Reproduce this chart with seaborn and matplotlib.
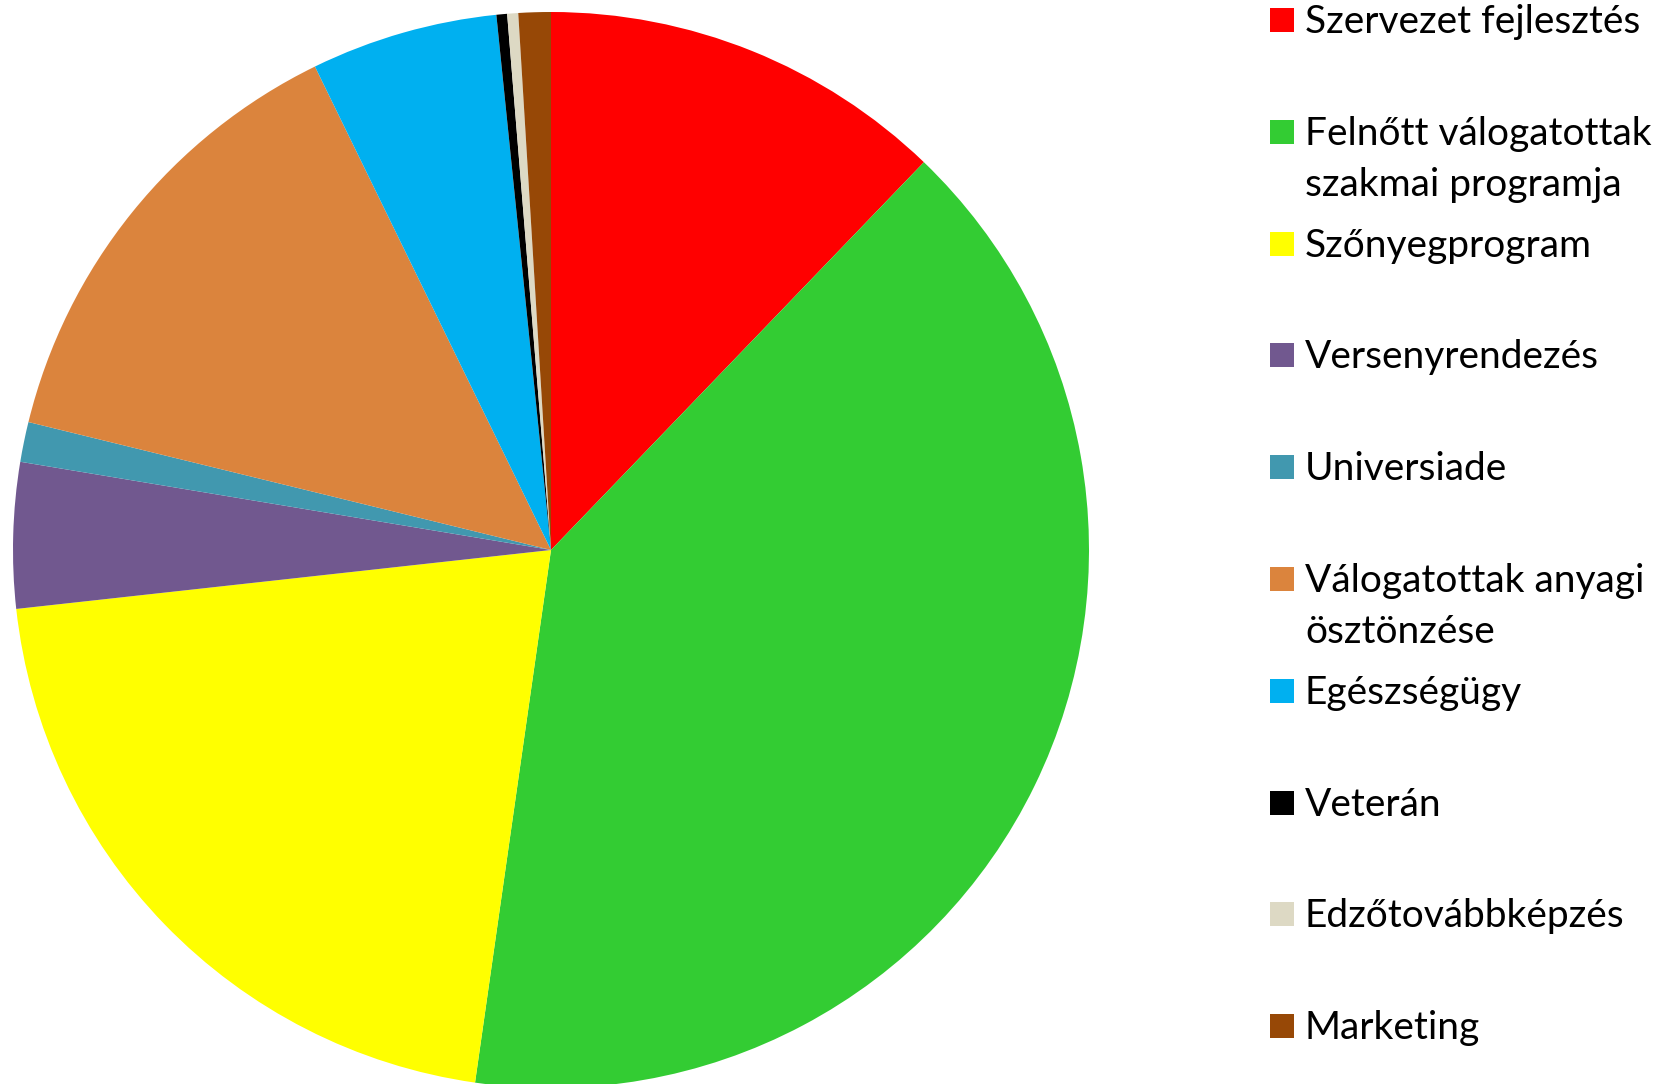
import matplotlib
matplotlib.use("Agg")
import matplotlib.pyplot as plt
import seaborn as sns
from matplotlib.patches import Rectangle

categories = ['Szervezet fejlesztés', 'Felnőtt válogatottak\nszakmai programja', 'Szőnyegprogram',
              'Versenyrendezés', 'Universiade', 'Válogatottak anyagi\nösztönzése', 'Egészségügy',
              'Veterán', 'Edzőtovábbképzés', 'Marketing']
shares = [12.19, 40.07, 21.0, 4.37, 1.2, 13.95, 5.61, 0.32, 0.33, 0.97]
colors = ['#FF0000', '#33CC33', '#FFFF00', '#71588F', '#4198AF',
          '#DB843D', '#00B0F0', '#000000', '#DDD9C4', '#974806']

sns.set_theme(style="white")
plt.rcParams['font.family'] = ['Lato', 'DejaVu Sans']

W, H = 1662, 1084
fig = plt.figure(figsize=(W / 100, H / 100), dpi=100)

# pie centre (551, 550) px, radius 538 px
cx, cy, r = 551, 550, 538
ax = fig.add_axes([(cx - r) / W, (H - cy - r) / H, 2 * r / W, 2 * r / H])
ax.pie(shares, colors=colors, startangle=90, counterclock=False,
       wedgeprops=dict(linewidth=0), radius=1)
ax.set_xlim(-1, 1)
ax.set_ylim(-1, 1)
ax.set_aspect('equal')
ax.axis('off')

# legend drawn by hand so that two-line labels keep the even spacing
sq = 24
for i, (lab, col) in enumerate(zip(categories, colors)):
    yc = 20 + 111.8 * i
    fig.patches.append(Rectangle((1270 / W, (H - yc - sq / 2) / H), sq / W, sq / H,
                                 facecolor=col, edgecolor='none',
                                 transform=fig.transFigure, figure=fig))
    for j, line in enumerate(lab.split('\n')):
        base = yc + 13 + 51 * j
        fig.text(1305 / W, (H - base) / H, line, fontsize=28, color='black',
                 ha='left', va='baseline')

fig.savefig('out.png', dpi=100)
